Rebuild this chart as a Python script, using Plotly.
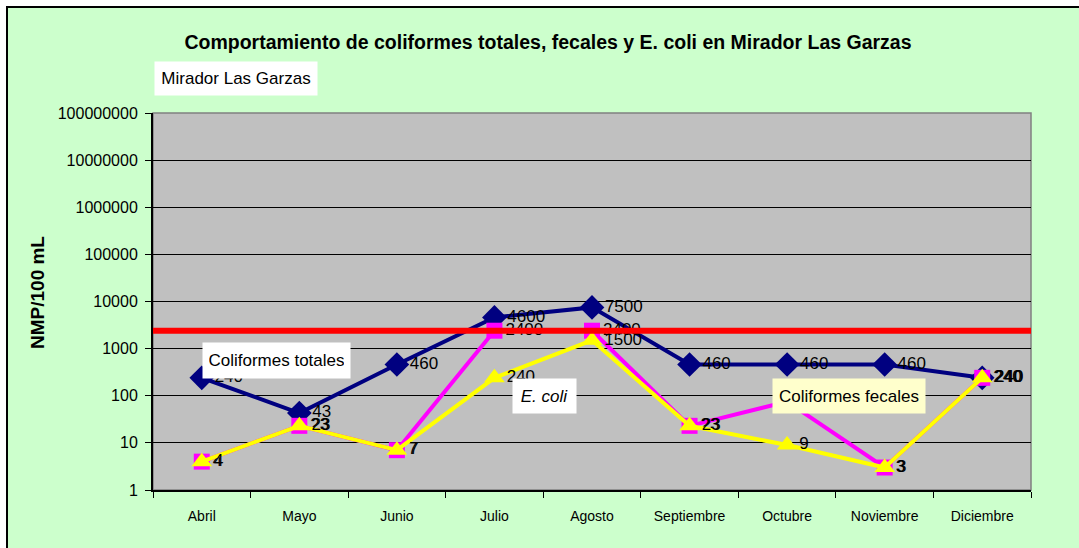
import plotly.graph_objects as go

meses = ["Abril", "Mayo", "Junio", "Julio", "Agosto", "Septiembre",
         "Octubre", "Noviembre", "Diciembre"]
totales = [240, 43, 460, 4600, 7500, 460, 460, 460, 240]
fecales = [4, 23, 7, 2400, 2400, 23, 75, 3, 240]
e_coli = [4, 23, 7, 240, 1500, 23, 9, 3, 240]
limite = 2400

FONT = "Liberation Sans, Arial, sans-serif"

# plot area in pixels (for placing boxes)
W, H = 1079, 548
L, R, T, B = 153, 48, 113, 58
PW, PH = W - L - R, H - T - B


def px(x):
    return (x - L) / PW


def py(y):
    return (H - B - y) / PH


fig = go.Figure()

fig.add_trace(go.Scatter(
    x=meses, y=totales, mode="lines+markers+text",
    name="Coliformes totales",
    line=dict(color="#000080", width=4),
    marker=dict(symbol="diamond", size=19, color="#000080"),
    text=[str(v) for v in totales], textposition="middle right",
    textfont=dict(size=17, color="black", family=FONT),
))
fig.add_trace(go.Scatter(
    x=meses, y=fecales, mode="lines+markers+text",
    name="Coliformes fecales",
    line=dict(color="#FF00FF", width=4),
    marker=dict(symbol="square", size=16, color="#FF00FF"),
    text=[str(v) for v in fecales], textposition="middle right",
    textfont=dict(size=17, color="black", family=FONT),
))
fig.add_trace(go.Scatter(
    x=meses, y=e_coli, mode="lines+markers+text",
    name="E. coli",
    line=dict(color="#FFFF00", width=4),
    marker=dict(symbol="triangle-up", size=18, color="#FFFF00"),
    text=[str(v) for v in e_coli], textposition="middle right",
    textfont=dict(size=17, color="black", family=FONT),
))

# background frame and grey plot area
fig.add_shape(type="rect", xref="paper", yref="paper", layer="below",
              x0=px(7), x1=1.3, y0=-0.5, y1=py(7),
              fillcolor="#CCFFCC", line=dict(color="black", width=2))
fig.add_shape(type="rect", xref="paper", yref="paper", layer="below",
              x0=0, x1=1, y0=0, y1=1,
              fillcolor="#C0C0C0", line=dict(color="#808080", width=1.5))

fig.add_hline(y=limite, line=dict(color="#FF0000", width=6))

notes = [
    ("Mirador Las Garzas", 236, 78.5, 150, 21, "white"),
    ("Coliformes totales", 276.5, 360.5, 135, 23, "white"),
    ("<i>E. coli</i>", 544.5, 396, 51, 22, "white"),
    ("Coliformes fecales", 849, 396, 140, 22, "#FFFFCC"),
]
for txt, x, y, w, h, bg in notes:
    fig.add_annotation(text=txt, xref="paper", yref="paper",
                       x=px(x), y=py(y), xanchor="center", yanchor="middle",
                       showarrow=False, width=w, height=h, borderpad=6,
                       bgcolor=bg, font=dict(size=17, color="black", family=FONT))

fig.add_annotation(text="<b>NMP/100 mL</b>", xref="paper", yref="paper",
                   x=px(37), y=py(293), textangle=-90, showarrow=False,
                   xanchor="center", yanchor="middle",
                   font=dict(size=19, color="black", family=FONT))

fig.update_layout(
    width=W, height=H,
    margin=dict(l=L, r=R, t=T, b=B),
    paper_bgcolor="white",
    plot_bgcolor="#C0C0C0",
    showlegend=False,
    font=dict(family=FONT, color="black"),
    title=dict(
        text="<b>Comportamiento de coliformes totales, fecales y E. coli en Mirador Las Garzas</b>",
        x=548 / W, y=1 - 42 / H, xref="container", yref="container",
        xanchor="center", yanchor="middle",
        font=dict(size=19.5, color="black", family=FONT),
    ),
    xaxis=dict(
        type="category", range=[-0.5, 8.5],
        showline=True, linecolor="black", linewidth=2,
        ticks="outside", tickson="boundaries", ticklen=6, tickcolor="black",
        showgrid=False, tickfont=dict(size=14, color="black"),
        ticklabelstandoff=12,
    ),
    yaxis=dict(
        type="log", range=[0, 8], dtick=1, tickformat="d",
        showline=True, linecolor="black", linewidth=2,
        ticks="outside", ticklen=6, tickcolor="black",
        showgrid=True, gridcolor="black", gridwidth=1.3,
        tickfont=dict(size=16, color="black"),
        ticklabelstandoff=4,
        zeroline=False,
    ),
)

fig.write_html("out.html", config={"displayModeBar": False},
               post_script="document.body.style.margin='0';")
